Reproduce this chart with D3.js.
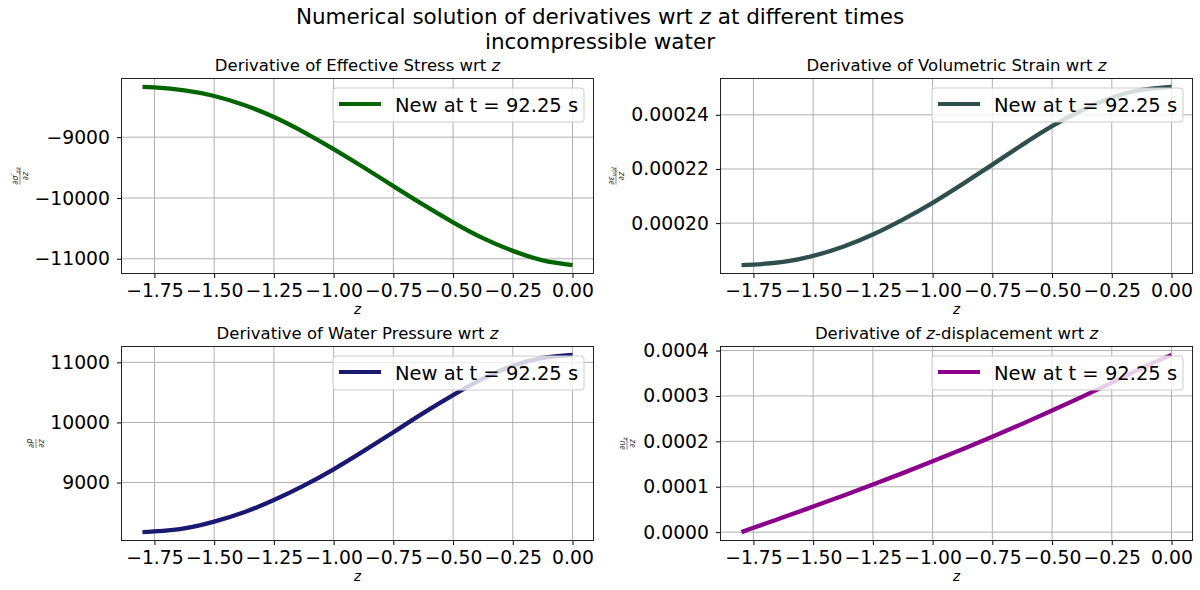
<!DOCTYPE html>
<html>
<head>
<meta charset="utf-8">
<script src="https://cdn.jsdelivr.net/npm/d3@7"></script>
<style>
  body { margin: 0; background: #fff; }
  text { font-family: "DejaVu Sans", sans-serif; }
</style>
</head>
<body>
<svg id="chart" width="1200" height="590"></svg>
<script>
// depth values along the column
const zVals = [-1.8, -1.75, -1.625, -1.5, -1.375, -1.25, -1.125, -1.0, -0.875, -0.75, -0.625, -0.5, -0.375, -0.25, -0.125, 0];

// derivatives (t = 92.25 s)
const stressVals = [-8173, -8182, -8230, -8322, -8470, -8668, -8915, -9195, -9495, -9805, -10110, -10400, -10660, -10870, -11025, -11104];
const strainVals = [0.0001845, 0.0001847, 0.0001857, 0.0001879, 0.0001913, 0.0001958, 0.0002013, 0.0002075, 0.0002144, 0.0002216, 0.0002289, 0.0002358, 0.0002417, 0.0002463, 0.0002492, 0.0002503];
const pressureVals = [8174, 8185, 8238, 8348, 8505, 8708, 8948, 9220, 9522, 9837, 10155, 10455, 10730, 10945, 11075, 11125];
const dispVals = [0, 0.0000095, 0.0000327, 0.0000563, 0.0000803, 0.0001048, 0.00013, 0.0001559, 0.0001826, 0.0002101, 0.0002385, 0.0002678, 0.000298, 0.0003292, 0.0003613, 0.0003905];

// tick labels
const xTicks = [-1.75, -1.5, -1.25, -1.0, -0.75, -0.5, -0.25, 0];
const stressTicks = [-11000, -10000, -9000];
const strainTicks = [0.00020, 0.00022, 0.00024];
const pressureTicks = [9000, 10000, 11000];
const dispTicks = [0, 0.0001, 0.0002, 0.0003, 0.0004];

const legendText = "New at t = 92.25 s";

const svg = d3.select("#chart");
const cols = [[121, 594], [720, 1193]];
const rows = [[78, 274], [346, 541]];

const minus = s => s.replace("-", "\u2212");

// matplotlib style 5% margins
function padded(vals) {
    let [lo, hi] = d3.extent(vals);
    let m = (hi - lo) * 0.05;
    return [lo - m, hi + m];
}

// title lines
svg.append("text")
    .attr("x", 600).attr("y", 24)
    .attr("text-anchor", "middle")
    .attr("font-size", 21.5)
    .call(t => {
        t.append("tspan").text("Numerical solution of derivatives wrt ");
        t.append("tspan").attr("font-style", "italic").text("z");
        t.append("tspan").text(" at different times");
    });
svg.append("text")
    .attr("x", 600).attr("y", 49)
    .attr("text-anchor", "middle")
    .attr("font-size", 21.5)
    .text("incompressible water");

const panels = [
    { col: 0, row: 0, values: stressVals, ticks: stressTicks, color: "#006400",
      title: ["Derivative of Effective Stress wrt ", "z", ""],
      fmt: d => minus(d3.format("d")(d)),
      lab: { x: 20, num: [["∂", ""], ["σ", "i"], ["′", ""], ["zz", "si"]] } },
    { col: 1, row: 0, values: strainVals, ticks: strainTicks, color: "#2f4f4f",
      title: ["Derivative of Volumetric Strain wrt ", "z", ""],
      fmt: d => d.toFixed(5),
      lab: { x: 616, num: [["∂", ""], ["ε", "i"], ["vol", "si"]] } },
    { col: 0, row: 1, values: pressureVals, ticks: pressureTicks, color: "#191970",
      title: ["Derivative of Water Pressure wrt ", "z", ""],
      fmt: d => d3.format("d")(d),
      lab: { x: 36, num: [["∂", ""], ["P", "i"]] } },
    { col: 1, row: 1, values: dispVals, ticks: dispTicks, color: "#8b008b",
      title: ["Derivative of ", "z", "-displacement wrt z"],
      fmt: d => d.toFixed(4),
      lab: { x: 627, num: [["∂", ""], ["u", "i"], ["z", "si"]] } }
];

panels.forEach(p => {
    const [x0, x1] = cols[p.col];
    const [y0, y1] = rows[p.row];
    const xs = d3.scaleLinear().domain(padded(zVals)).range([x0, x1]);
    const ys = d3.scaleLinear().domain(padded(p.values)).range([y1, y0]);
    const g = svg.append("g");

    // grid
    g.append("g").selectAll("line").data(xTicks).join("line")
        .attr("x1", d => xs(d)).attr("x2", d => xs(d))
        .attr("y1", y0).attr("y2", y1)
        .attr("stroke", "#b0b0b0").attr("stroke-width", 1);
    g.append("g").selectAll("line").data(p.ticks).join("line")
        .attr("x1", x0).attr("x2", x1)
        .attr("y1", d => ys(d)).attr("y2", d => ys(d))
        .attr("stroke", "#b0b0b0").attr("stroke-width", 1);

    // axes
    const ax = g.append("g").attr("transform", `translate(0,${y1})`)
        .call(d3.axisBottom(xs).tickValues(xTicks).tickSize(4).tickPadding(6)
            .tickFormat(d => minus(d.toFixed(2))));
    const ay = g.append("g").attr("transform", `translate(${x0},0)`)
        .call(d3.axisLeft(ys).tickValues(p.ticks).tickSize(4).tickPadding(7)
            .tickFormat(p.fmt));
    [ax, ay].forEach(a => {
        a.select(".domain").remove();
        a.selectAll("text").attr("font-size", 18.8).attr("fill", "#000")
            .attr("font-family", "DejaVu Sans");
        a.selectAll("line").attr("stroke", "#000");
    });

    // line
    g.append("path")
        .datum(zVals.map((z, i) => [z, p.values[i]]))
        .attr("d", d3.line().x(d => xs(d[0])).y(d => ys(d[1])).curve(d3.curveNatural))
        .attr("fill", "none")
        .attr("stroke", p.color)
        .attr("stroke-width", 4.3);

    // frame
    g.append("rect")
        .attr("x", x0 + 0.5).attr("y", y0 + 0.5)
        .attr("width", x1 - x0 - 1).attr("height", y1 - y0 - 1)
        .attr("fill", "none").attr("stroke", "#222").attr("stroke-width", 1);

    // legend
    const lx = x1 - 10 - 251, ly = y0 + 10;
    g.append("rect")
        .attr("x", lx).attr("y", ly).attr("width", 251).attr("height", 34)
        .attr("rx", 3)
        .attr("fill", "#fff").attr("fill-opacity", 0.8)
        .attr("stroke", "#ccc").attr("stroke-width", 1);
    g.append("line")
        .attr("x1", lx + 6).attr("x2", lx + 48)
        .attr("y1", ly + 16).attr("y2", ly + 16)
        .attr("stroke", p.color).attr("stroke-width", 4);
    g.append("text")
        .attr("x", lx + 62).attr("y", ly + 17)
        .attr("dy", "0.35em")
        .attr("font-size", 19.5)
        .text(legendText);

    // subplot title
    svg.append("text")
        .attr("x", (x0 + x1) / 2).attr("y", y0 - 7)
        .attr("text-anchor", "middle")
        .attr("font-size", 16.5)
        .call(t => {
            t.append("tspan").text(p.title[0]);
            t.append("tspan").attr("font-style", "italic").text(p.title[1]);
            if (p.title[2]) {
                const rest = p.title[2];
                t.append("tspan").text(rest.slice(0, -1));
                t.append("tspan").attr("font-style", "italic").text(rest.slice(-1));
            }
        });

    // x label
    svg.append("text")
        .attr("x", (x0 + x1) / 2).attr("y", y1 + 40)
        .attr("text-anchor", "middle")
        .attr("font-size", 13.5)
        .attr("font-style", "italic")
        .text("z");

    // y label as a small fraction
    const cy = (y0 + y1) / 2;
    const fr = svg.append("g").attr("transform", `translate(${p.lab.x},${cy}) rotate(-90)`);
    const num = fr.append("text").attr("x", 0).attr("y", -2.5)
        .attr("text-anchor", "middle").attr("font-size", 8).attr("fill", "#333");
    p.lab.num.forEach(([s, st]) => {
        const ts = num.append("tspan").text(s);
        if (st.includes("i")) ts.attr("font-style", "italic");
        if (st.includes("s")) ts.attr("font-size", 6).attr("dy", 2);
    });
    const w = num.node().getComputedTextLength();
    fr.append("line")
        .attr("x1", -w / 2).attr("x2", w / 2)
        .attr("y1", 0).attr("y2", 0)
        .attr("stroke", "#333").attr("stroke-width", 0.6);
    const den = fr.append("text").attr("x", 0).attr("y", 8)
        .attr("text-anchor", "middle").attr("font-size", 8).attr("fill", "#333");
    den.append("tspan").text("∂");
    den.append("tspan").attr("font-style", "italic").text("z");
});
</script>
</body>
</html>
